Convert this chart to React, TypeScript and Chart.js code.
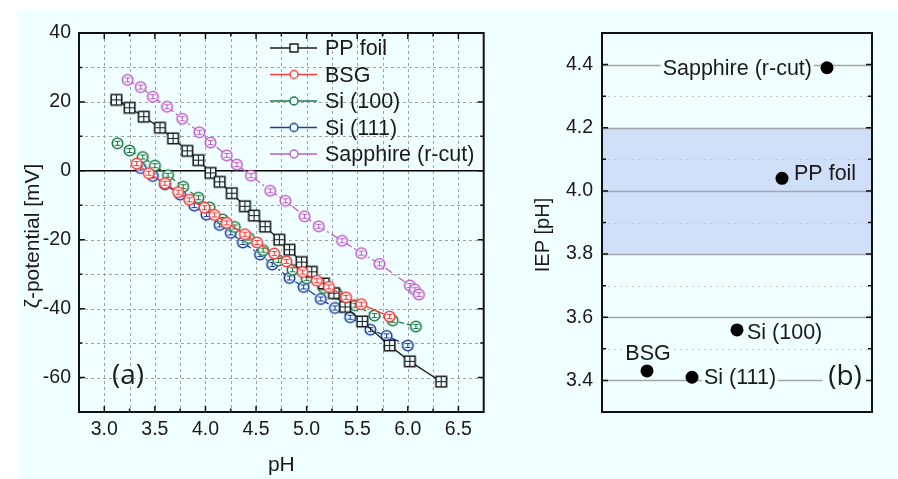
import React, { useEffect, useRef } from 'react';
import { Chart, registerables } from 'chart.js';

Chart.register(...registerables);

// ---------- Panel (a): zeta potential vs pH ----------
const SERIES_NAMES = ['PP foil', 'BSG', 'Si (100)', 'Si (111)', 'Sapphire (r-cut)'];

const PP_PH = [3.12, 3.25, 3.39, 3.55, 3.68, 3.82, 3.93, 4.05, 4.14, 4.26, 4.39, 4.48, 4.59, 4.73, 4.83, 4.95, 5.05, 5.17, 5.27, 5.38, 5.55, 5.82, 6.02, 6.33];
const PP_ZETA = [20.6, 18.3, 15.7, 12.5, 9.4, 5.8, 3.1, -0.6, -3.2, -6.5, -10.3, -13.0, -16.2, -20.0, -22.9, -26.5, -29.3, -32.7, -35.5, -39.5, -43.7, -50.7, -55.3, -61.2];

const BSG_PH = [3.32, 3.44, 3.6, 3.73, 3.84, 3.99, 4.09, 4.21, 4.39, 4.51, 4.68, 4.8, 4.96, 5.1, 5.22, 5.39, 5.54, 5.82];
const BSG_ZETA = [2.1, -0.7, -3.6, -6.2, -8.4, -10.7, -12.8, -15.1, -18.4, -20.8, -24.0, -26.3, -29.4, -31.9, -33.7, -36.7, -38.7, -42.3];

const SI100_PH = [3.13, 3.25, 3.38, 3.5, 3.63, 3.78, 3.93, 4.04, 4.17, 4.29, 4.43, 4.57, 4.72, 4.86, 5.0, 5.17, 5.3, 5.48, 5.67, 5.85, 6.08];
const SI100_ZETA = [8.0, 5.9, 4.0, 1.5, -1.3, -4.6, -7.8, -10.6, -14.1, -16.3, -19.5, -23.0, -26.0, -28.7, -31.2, -34.0, -35.7, -39.0, -42.0, -43.4, -45.2];

const SI111_PH = [3.36, 3.48, 3.6, 3.75, 3.89, 4.01, 4.14, 4.25, 4.37, 4.54, 4.66, 4.83, 4.97, 5.14, 5.28, 5.43, 5.63, 5.79, 6.0];
const SI111_ZETA = [0.8, -1.5, -3.9, -6.9, -10.1, -12.7, -15.7, -18.0, -20.8, -24.3, -27.2, -31.1, -33.7, -37.2, -39.8, -42.5, -46.1, -47.9, -50.7];

const SAPP_PH = [3.23, 3.36, 3.48, 3.62, 3.77, 3.94, 4.05, 4.21, 4.31, 4.45, 4.64, 4.79, 4.98, 5.12, 5.35, 5.54, 5.72, 6.02, 6.07, 6.11];
const SAPP_ZETA = [26.4, 24.3, 21.5, 18.6, 15.1, 11.2, 8.2, 4.5, 1.8, -1.4, -5.8, -8.7, -13.2, -16.1, -20.3, -23.9, -27.0, -33.3, -34.5, -35.9];

const X_MIN = 2.75, X_MAX = 6.75, X_STEP = 0.25, X_LABEL_STEP = 0.5;
const Y_MIN = -70, Y_MAX = 40, Y_STEP = 10, Y_LABEL_STEP = 20;

// ---------- Panel (b): IEP ----------
const IEP_SAMPLES = ['BSG', 'Si (111)', 'Si (100)', 'PP foil', 'Sapphire (r-cut)'];
const IEP_VALUES = [3.43, 3.41, 3.56, 4.04, 4.39];
const IEP_BAND = [3.8, 4.2];
const B_MIN = 3.3, B_MAX = 4.5, B_STEP = 0.1;

// ---------- styles ----------
const BG = '#F0FFFF';
const BAND_COLOR = '#d0dff8';
const FONT = "'Liberation Sans', Arial, sans-serif";
const TEXT = '#1a1a1a';
const SERIES_STYLE = [
  { color: '#1a1a1a', shape: 'square', dash: [], order: 1 },
  { color: '#ff3b3b', shape: 'circle', dash: [], order: 0 },
  { color: '#1f7a42', shape: 'circle', dash: [5, 3], order: 2 },
  { color: '#1c3d9c', shape: 'circle', dash: [8, 3, 2, 3], order: 3 },
  { color: '#c25ec8', shape: 'circle', dash: [8, 3, 2, 3], order: 4 },
];
const SERIES_PH = [PP_PH, BSG_PH, SI100_PH, SI111_PH, SAPP_PH];
const SERIES_ZETA = [PP_ZETA, BSG_ZETA, SI100_ZETA, SI111_ZETA, SAPP_ZETA];
// label placement in panel (b): [dx, dy, align]
const IEP_LABEL_STYLE: [number, number, CanvasTextAlign][] = [
  [1, -19, 'center'],
  [12, -1, 'left'],
  [10, 1, 'left'],
  [12, -6, 'left'],
  [-15, 0, 'right'],
];

function makeMarker(shape: string, color: string, size: number, glyph: boolean) {
  const c = document.createElement('canvas');
  const S = Math.ceil(size + 4);
  c.width = S;
  c.height = S;
  const g = c.getContext('2d')!;
  const m = S / 2;
  g.strokeStyle = color;
  g.fillStyle = BG;
  g.lineWidth = glyph ? 1.6 : 1.4;
  g.beginPath();
  if (shape === 'square') g.rect(m - size / 2, m - size / 2, size, size);
  else g.arc(m, m, size / 2, 0, Math.PI * 2);
  g.fill();
  g.stroke();
  if (glyph) {
    g.lineWidth = 1.1;
    g.beginPath();
    if (shape === 'square') {
      g.moveTo(m - size / 2, m); g.lineTo(m + size / 2, m);
      g.moveTo(m, m - size / 2); g.lineTo(m, m + size / 2);
    } else {
      g.moveTo(m - 2.8, m - 2); g.lineTo(m + 2.8, m - 2);
      g.moveTo(m - 2.8, m + 2); g.lineTo(m + 2.8, m + 2);
      g.moveTo(m, m - 2); g.lineTo(m, m + 2);
    }
    g.stroke();
  }
  return c;
}

function capText(ctx: CanvasRenderingContext2D, text: string, x: number, yc: number, size: number, align: CanvasTextAlign) {
  ctx.font = `${size}px ${FONT}`;
  ctx.textAlign = align;
  ctx.textBaseline = 'alphabetic';
  ctx.fillText(text, x, yc + 0.358 * size);
}

function rotText(ctx: CanvasRenderingContext2D, text: string, cx: number, cy: number, size: number) {
  ctx.save();
  ctx.translate(cx, cy);
  ctx.rotate(-Math.PI / 2);
  ctx.font = `${size}px ${FONT}`;
  ctx.textAlign = 'center';
  ctx.textBaseline = 'middle';
  ctx.fillStyle = TEXT;
  ctx.fillText(text, 0, 0);
  ctx.restore();
}

const isMult = (v: number, step: number) => Math.abs(v / step - Math.round(v / step)) < 1e-6;

const panelAPlugin = {
  id: 'panelA',
  beforeDatasetsDraw(chart: any) {
    const { ctx, chartArea: ca, scales } = chart;
    const x = scales.x, y = scales.y;
    ctx.save();
    ctx.beginPath();
    ctx.rect(ca.left, ca.top, ca.right - ca.left, ca.bottom - ca.top);
    ctx.clip();
    ctx.strokeStyle = '#98a3ae';
    ctx.lineWidth = 1;
    ctx.setLineDash([3, 3]);
    ctx.beginPath();
    for (let i = 1; ; i++) {
      const v = X_MIN + i * X_STEP;
      if (v >= X_MAX - 1e-9) break;
      const px = Math.round(x.getPixelForValue(v)) + 0.5;
      ctx.moveTo(px, ca.top); ctx.lineTo(px, ca.bottom);
    }
    for (let i = 1; ; i++) {
      const v = Y_MIN + i * Y_STEP;
      if (v >= Y_MAX - 1e-9) break;
      if (Math.abs(v) < 1e-9) continue;
      const py = Math.round(y.getPixelForValue(v)) + 0.5;
      ctx.moveTo(ca.left, py); ctx.lineTo(ca.right, py);
    }
    ctx.stroke();
    ctx.setLineDash([]);
    ctx.strokeStyle = '#000';
    ctx.lineWidth = 1.5;
    ctx.beginPath();
    const p0 = y.getPixelForValue(0);
    ctx.moveTo(ca.left, p0); ctx.lineTo(ca.right, p0);
    ctx.stroke();
    ctx.restore();
  },
  afterDatasetsDraw(chart: any) {
    const { ctx, chartArea: ca, scales } = chart;
    const x = scales.x, y = scales.y;
    ctx.save();
    // frame
    ctx.strokeStyle = '#111';
    ctx.lineWidth = 2;
    ctx.strokeRect(ca.left, ca.top, ca.right - ca.left, ca.bottom - ca.top);
    // inward ticks
    ctx.lineWidth = 1.5;
    ctx.beginPath();
    for (let i = 1; ; i++) {
      const v = X_MIN + i * X_STEP;
      if (v >= X_MAX - 1e-9) break;
      const len = isMult(v, X_LABEL_STEP) ? 6 : 3.5;
      const px = x.getPixelForValue(v);
      ctx.moveTo(px, ca.bottom); ctx.lineTo(px, ca.bottom - len);
      ctx.moveTo(px, ca.top); ctx.lineTo(px, ca.top + len);
    }
    for (let i = 1; ; i++) {
      const v = Y_MIN + i * Y_STEP;
      if (v >= Y_MAX - 1e-9) break;
      const len = isMult(v, Y_LABEL_STEP) ? 6 : 3.5;
      const py = y.getPixelForValue(v);
      ctx.moveTo(ca.left, py); ctx.lineTo(ca.left + len, py);
      ctx.moveTo(ca.right, py); ctx.lineTo(ca.right - len, py);
    }
    ctx.stroke();
    // legend
    const rowStart = ca.top + 15;
    const rowGap = 26.5;
    chart.data.datasets.forEach((ds: any, i: number) => {
      const st = SERIES_STYLE[i];
      const ry = rowStart + i * rowGap;
      ctx.strokeStyle = st.color;
      ctx.lineWidth = 1.3;
      ctx.beginPath();
      ctx.moveTo(ca.left + 191, ry); ctx.lineTo(ca.left + 238, ry);
      ctx.stroke();
      const mk = makeMarker(st.shape, st.color, 8, false);
      ctx.drawImage(mk, ca.left + 215 - mk.width / 2, ry - mk.height / 2);
      ctx.fillStyle = TEXT;
      capText(ctx, ds.label, ca.left + 246, ry - 0.5, 21.5, 'left');
    });
    // panel tag
    ctx.fillStyle = TEXT;
    ctx.font = `28px 'Open Sans', ${FONT}`;
    ctx.textAlign = 'center';
    ctx.textBaseline = 'middle';
    ctx.fillText('(a)', ca.left + 49, ca.bottom - 36);
    // axis titles
    rotText(ctx, 'ζ-potential [mV]', 33, 236, 21);
    ctx.fillStyle = TEXT;
    ctx.font = `21px ${FONT}`;
    ctx.textAlign = 'center';
    ctx.textBaseline = 'middle';
    ctx.fillText('pH', (ca.left + ca.right) / 2, 465);
    ctx.restore();
  },
};

const panelBPlugin = {
  id: 'panelB',
  beforeDatasetsDraw(chart: any) {
    const { ctx, chartArea: ca, scales } = chart;
    const y = scales.y;
    ctx.save();
    // band
    const b0 = y.getPixelForValue(IEP_BAND[1]);
    const b1 = y.getPixelForValue(IEP_BAND[0]);
    ctx.fillStyle = BAND_COLOR;
    ctx.fillRect(ca.left, b0, ca.right - ca.left, b1 - b0);
    // grid
    for (let i = 1; ; i++) {
      const v = B_MIN + i * B_STEP;
      if (v >= B_MAX - 1e-9) break;
      const py = Math.round(y.getPixelForValue(v)) + 0.5;
      const major = isMult(v, 0.2);
      ctx.beginPath();
      if (major) {
        ctx.setLineDash([]);
        ctx.strokeStyle = '#9ea6ae';
        ctx.lineWidth = 1.4;
      } else {
        ctx.setLineDash([2, 4]);
        ctx.strokeStyle = '#c4cad0';
        ctx.lineWidth = 1;
      }
      ctx.moveTo(ca.left, py); ctx.lineTo(ca.right, py);
      ctx.stroke();
    }
    ctx.setLineDash([]);
    // labels with background
    const ds = chart.getDatasetMeta(0);
    IEP_SAMPLES.forEach((name, i) => {
      const pt = ds.data[i + 1];
      if (!pt) return;
      const [dx, dy, align] = IEP_LABEL_STYLE[i];
      const tx = pt.x + dx, ty = pt.y + dy;
      ctx.font = `21.5px ${FONT}`;
      const w = ctx.measureText(name).width;
      let x0 = tx;
      if (align === 'center') x0 = tx - w / 2;
      if (align === 'right') x0 = tx - w;
      const val = IEP_VALUES[i];
      ctx.fillStyle = val >= IEP_BAND[0] && val <= IEP_BAND[1] ? BAND_COLOR : BG;
      ctx.fillRect(x0 - 2, ty - 11, w + 4, 22);
      ctx.fillStyle = TEXT;
      capText(ctx, name, tx, ty, 21.5, align);
    });
    // panel tag
    ctx.font = `28px 'Open Sans', ${FONT}`;
    const tw = ctx.measureText('(b)').width;
    const tx = ca.right - 27, ty = ca.bottom - 35;
    ctx.fillStyle = BG;
    ctx.fillRect(tx - tw / 2 - 6, ty - 14, tw + 12, 28);
    ctx.fillStyle = TEXT;
    ctx.textAlign = 'center';
    ctx.textBaseline = 'middle';
    ctx.fillText('(b)', tx, ty);
    ctx.restore();
  },
  afterDatasetsDraw(chart: any) {
    const { ctx, chartArea: ca, scales } = chart;
    const y = scales.y;
    ctx.save();
    ctx.strokeStyle = '#111';
    ctx.lineWidth = 2;
    ctx.strokeRect(ca.left, ca.top, ca.right - ca.left, ca.bottom - ca.top);
    ctx.lineWidth = 1.5;
    ctx.beginPath();
    for (let i = 1; ; i++) {
      const v = B_MIN + i * B_STEP;
      if (v >= B_MAX - 1e-9) break;
      const len = isMult(v, 0.2) ? 6 : 4;
      const py = y.getPixelForValue(v);
      ctx.moveTo(ca.left, py); ctx.lineTo(ca.left + len, py);
      ctx.moveTo(ca.right, py); ctx.lineTo(ca.right - len, py);
    }
    ctx.stroke();
    rotText(ctx, 'IEP [pH]', 53, 235, 20);
    ctx.restore();
  },
};

function configA(): any {
  const datasets = SERIES_NAMES.map((name, i) => {
    const st = SERIES_STYLE[i];
    return {
      label: name,
      data: SERIES_PH[i].map((p, k) => ({ x: p, y: SERIES_ZETA[i][k] })),
      borderColor: st.color,
      backgroundColor: st.color,
      borderWidth: 1.3,
      borderDash: st.dash,
      pointStyle: makeMarker(st.shape, st.color, 10.5, true),
      pointRadius: 5,
      pointHoverRadius: 5,
      tension: 0,
      fill: false,
      order: st.order,
    };
  });
  return {
    type: 'line',
    data: { datasets },
    options: {
      responsive: false,
      devicePixelRatio: 1,
      animation: false,
      events: [],
      layout: { padding: { top: 33, right: 5, left: 0, bottom: 0 } },
      plugins: { legend: { display: false }, tooltip: { enabled: false } },
      scales: {
        x: {
          type: 'linear',
          min: X_MIN,
          max: X_MAX,
          grid: { display: false, drawTicks: false },
          border: { display: false },
          afterFit: (s: any) => { s.height = 67; },
          ticks: {
            stepSize: X_STEP,
            autoSkip: false,
            maxRotation: 0,
            minRotation: 0,
            padding: 6,
            color: TEXT,
            font: { family: FONT, size: 19.5 },
            callback: (v: number) => (isMult(v, X_LABEL_STEP) && v > X_MIN + 1e-9 && v < X_MAX - 1e-9 ? v.toFixed(1) : ''),
          },
        },
        y: {
          type: 'linear',
          min: Y_MIN,
          max: Y_MAX,
          grid: { display: false, drawTicks: false },
          border: { display: false },
          afterFit: (s: any) => { s.width = 79; },
          ticks: {
            stepSize: Y_STEP,
            autoSkip: false,
            padding: 8,
            color: TEXT,
            font: { family: FONT, size: 19.5 },
            callback: (v: number) => (isMult(v, Y_LABEL_STEP) && v > Y_MIN ? String(Math.round(v)) : ''),
          },
        },
      },
    },
    plugins: [panelAPlugin],
  };
}

function configB(): any {
  const labels = ['', ...IEP_SAMPLES, ''];
  const data = [null, ...IEP_VALUES, null];
  return {
    type: 'line',
    data: {
      labels,
      datasets: [{
        label: 'IEP',
        data,
        showLine: false,
        pointStyle: 'circle',
        pointRadius: 6.5,
        pointHoverRadius: 6.5,
        pointBackgroundColor: '#000',
        pointBorderColor: '#000',
        pointBorderWidth: 0,
      }],
    },
    options: {
      responsive: false,
      devicePixelRatio: 1,
      animation: false,
      events: [],
      layout: { padding: { top: 33, right: 26, left: 0, bottom: 67 } },
      plugins: { legend: { display: false }, tooltip: { enabled: false } },
      scales: {
        x: { type: 'category', display: false, offset: false },
        y: {
          type: 'linear',
          min: B_MIN,
          max: B_MAX,
          grid: { display: false, drawTicks: false },
          border: { display: false },
          afterFit: (s: any) => { s.width = 112; },
          ticks: {
            stepSize: B_STEP,
            autoSkip: false,
            padding: 9,
            color: TEXT,
            font: { family: FONT, size: 19.5 },
            callback: (v: number) => (isMult(v, 0.2) && v > B_MIN + 1e-9 && v < B_MAX - 1e-9 ? v.toFixed(1) : ''),
          },
        },
      },
    },
    plugins: [panelBPlugin],
  };
}

export default function App() {
  const refA = useRef<HTMLCanvasElement>(null);
  const refB = useRef<HTMLCanvasElement>(null);
  useEffect(() => {
    const a = new Chart(refA.current!, configA());
    const b = new Chart(refB.current!, configB());
    return () => {
      a.destroy();
      b.destroy();
    };
  }, []);
  return (
    <div style={{ position: 'fixed', left: 0, top: 0, width: 898, height: 479, background: '#fff', overflow: 'hidden' }}>
      <div style={{ position: 'absolute', left: 17, top: 10, right: 0, bottom: 0, background: BG }} />
      <canvas ref={refA} width={490} height={479} style={{ position: 'absolute', left: 0, top: 0, width: 490, height: 479 }} />
      <canvas ref={refB} width={408} height={479} style={{ position: 'absolute', left: 490, top: 0, width: 408, height: 479 }} />
    </div>
  );
}
